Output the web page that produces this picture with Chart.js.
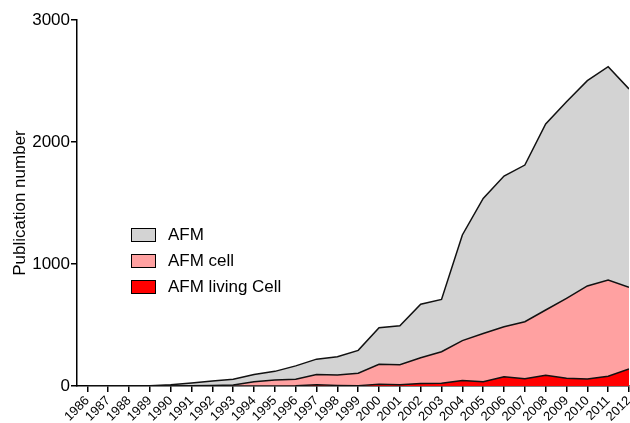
<!DOCTYPE html>
<html>
<head>
<meta charset="utf-8">
<script src="https://cdn.jsdelivr.net/npm/chart.js@4.4.1/dist/chart.umd.min.js"></script>
<style>
  html, body { margin: 0; padding: 0; background: #fff; }
  #wrap { position: relative; width: 630px; height: 423px; }
  #legend { position: absolute; left: 131px; top: 222px; font-family: Arial, "Liberation Sans", sans-serif; font-size: 17px; color: #000; }
  .item { display: flex; align-items: center; height: 26px; }
  .box { width: 23px; height: 12px; border: 1.5px solid #000; margin-right: 12px; }
</style>
</head>
<body>
<div id="wrap">
  <canvas id="chart" width="630" height="423"></canvas>
  <div id="legend"></div>
</div>
<script>
const years = [1986, 1987, 1988, 1989, 1990, 1991, 1992, 1993, 1994, 1995, 1996, 1997, 1998, 1999,
  2000, 2001, 2002, 2003, 2004, 2005, 2006, 2007, 2008, 2009, 2010, 2011, 2012];
const afm = [0, 0, 2, 3, 10, 25, 40, 55, 95, 120, 165, 220, 240, 292,
  478, 494, 670, 710, 1238, 1538, 1721, 1811, 2148, 2330, 2503, 2617, 2435];
const afmCell = [0, 0, 0, 0, 1, 2, 4, 8, 35, 50, 55, 95, 90, 104,
  178, 174, 232, 281, 372, 430, 486, 527, 623, 719, 820, 869, 809];
const afmLiving = [0, 0, 0, 0, 0, 0, 0, 0, 0, 0, 2, 10, 5, 3,
  15, 10, 20, 22, 45, 35, 75, 60, 88, 63, 57, 80, 140];
const yTicks = [0, 1000, 2000, 3000];

const seriesNames = ['AFM', 'AFM cell', 'AFM living Cell'];
const seriesColors = ['#d3d3d3', '#ffa1a1', '#ff0000'];
const seriesData = [afm, afmCell, afmLiving];

const datasets = seriesData.map((vals, i) => ({
  label: seriesNames[i],
  data: vals.map((v, j) => ({ x: years[j], y: v })),
  backgroundColor: seriesColors[i],
  borderColor: '#111',
  borderWidth: 1.5,
  fill: 'origin',
  tension: 0,
  pointRadius: 0,
  order: 3 - i
}));

new Chart(document.getElementById('chart'), {
  type: 'line',
  data: { datasets },
  options: {
    responsive: false,
    animation: false,
    layout: { padding: { top: 20, right: 1, left: 0, bottom: 0 } },
    plugins: { legend: { display: false }, tooltip: { enabled: false } },
    scales: {
      x: {
        type: 'linear',
        min: 1985.5,
        max: 2012,
        afterBuildTicks: (scale) => { scale.ticks = years.map(v => ({ value: v })); },
        afterFit: (scale) => { scale.height = 37; scale.paddingLeft = 0; scale.paddingRight = 0; },
        border: { display: true, color: '#000', width: 1.5 },
        grid: { drawOnChartArea: false, drawTicks: true, tickLength: 6, color: '#000', lineWidth: 1.5 },
        ticks: {
          autoSkip: false,
          minRotation: 45,
          maxRotation: 45,
          padding: 1,
          color: '#000',
          font: { family: 'Arial', size: 13 },
          callback: (v) => String(v)
        }
      },
      y: {
        min: 0,
        max: 3000,
        afterBuildTicks: (scale) => { scale.ticks = yTicks.map(v => ({ value: v })); },
        afterFit: (scale) => { scale.width = 77; },
        border: { display: true, color: '#000', width: 1.5 },
        grid: { drawOnChartArea: false, drawTicks: true, tickLength: 6, color: '#000', lineWidth: 1.5 },
        ticks: { padding: 1, color: '#000', font: { family: 'Arial', size: 17 }, callback: (v) => String(v) },
        title: {
          display: true,
          text: 'Publication number',
          color: '#000',
          font: { family: 'Arial', size: 17 },
          padding: { top: 10, bottom: 0 }
        }
      }
    }
  }
});

const legend = document.getElementById('legend');
seriesNames.forEach((name, i) => {
  const row = document.createElement('div');
  row.className = 'item';
  const box = document.createElement('span');
  box.className = 'box';
  box.style.background = seriesColors[i];
  const txt = document.createElement('span');
  txt.textContent = name;
  row.appendChild(box);
  row.appendChild(txt);
  legend.appendChild(row);
});
</script>
</body>
</html>
